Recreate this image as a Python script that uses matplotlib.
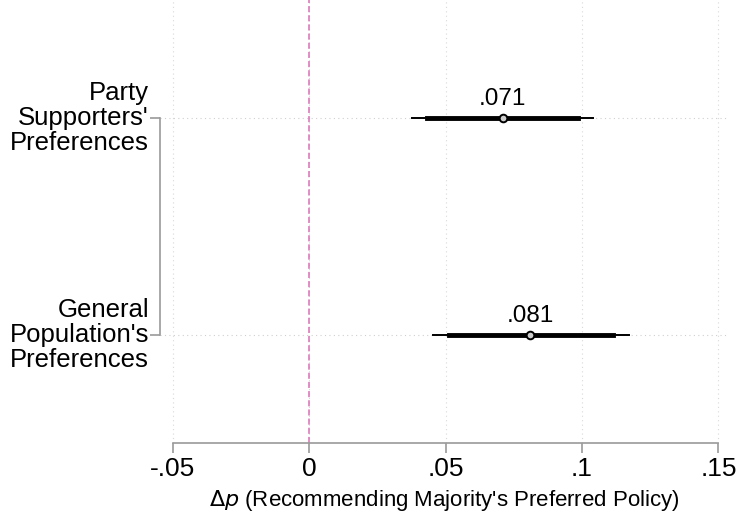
import matplotlib
matplotlib.use('Agg')
import matplotlib.pyplot as plt

plt.rcParams['font.family'] = ['Liberation Sans', 'DejaVu Sans']

labels = ["Party\nSupporters'\nPreferences", "General\nPopulation's\nPreferences"]
ypos = [1, 0]
est = [0.071, 0.081]
ci95_lo = [0.0376, 0.0455]
ci95_hi = [0.1039, 0.1173]
ci90_lo = [0.0431, 0.0513]
ci90_hi = [0.0987, 0.1115]
est_text = ['.071', '.081']
xticks = [-0.05, 0, 0.05, 0.1, 0.15]
xtick_labels = ['-.05', '0', '.05', '.1', '.15']

fig = plt.figure(figsize=(7.4, 5.12), dpi=100)
ax = fig.add_axes([160 / 740, 69 / 512, 568 / 740, 443 / 512])

ax.set_xlim(-0.0546, 0.1535)
ax.set_ylim(-0.498, 1.544)

# grid
for x in xticks:
    ax.axvline(x, color='#d9d9d9', lw=0.8, ls=(0, (1, 3)), zorder=0)
for y in ypos:
    ax.axhline(y, color='#d0d0d0', lw=0.8, ls=(0, (1, 3)), zorder=0)
ax.axvline(0, color='#d970b5', lw=1.1, ls=(0, (4, 2)), zorder=1)

for i in range(len(est)):
    ax.plot([ci95_lo[i], ci95_hi[i]], [ypos[i], ypos[i]], color='black', lw=1.4, zorder=2)
    ax.plot([ci90_lo[i], ci90_hi[i]], [ypos[i], ypos[i]], color='black', lw=3.5, zorder=3)
    ax.plot(est[i], ypos[i], marker='o', ms=5.5, mfc='#cccccc', mec='black', mew=1.4, zorder=4)
    ax.text(est[i], ypos[i] + 0.038, est_text[i], ha='center', va='bottom', fontsize=17.5)

ax.set_yticks(ypos)
ax.set_yticklabels(labels, fontsize=18.5, linespacing=1.03, ha='right', va='center')
ax.set_xticks(xticks)
ax.set_xticklabels(xtick_labels, fontsize=19)
ax.set_xlabel(r"$\Delta\mathit{p}$ (Recommending Majority's Preferred Policy)", fontsize=16, labelpad=5)

for s in ['top', 'right']:
    ax.spines[s].set_visible(False)
ax.spines['left'].set_bounds(0, 1)
ax.spines['bottom'].set_bounds(-0.05, 0.15)
for s in ['left', 'bottom']:
    ax.spines[s].set_color('#9a9a9a')
    ax.spines[s].set_linewidth(1.2)
ax.tick_params(axis='both', color='#9a9a9a', width=1.2, length=7, pad=3)
ax.tick_params(axis='y', pad=1)

fig.savefig('out.png', dpi=100)
